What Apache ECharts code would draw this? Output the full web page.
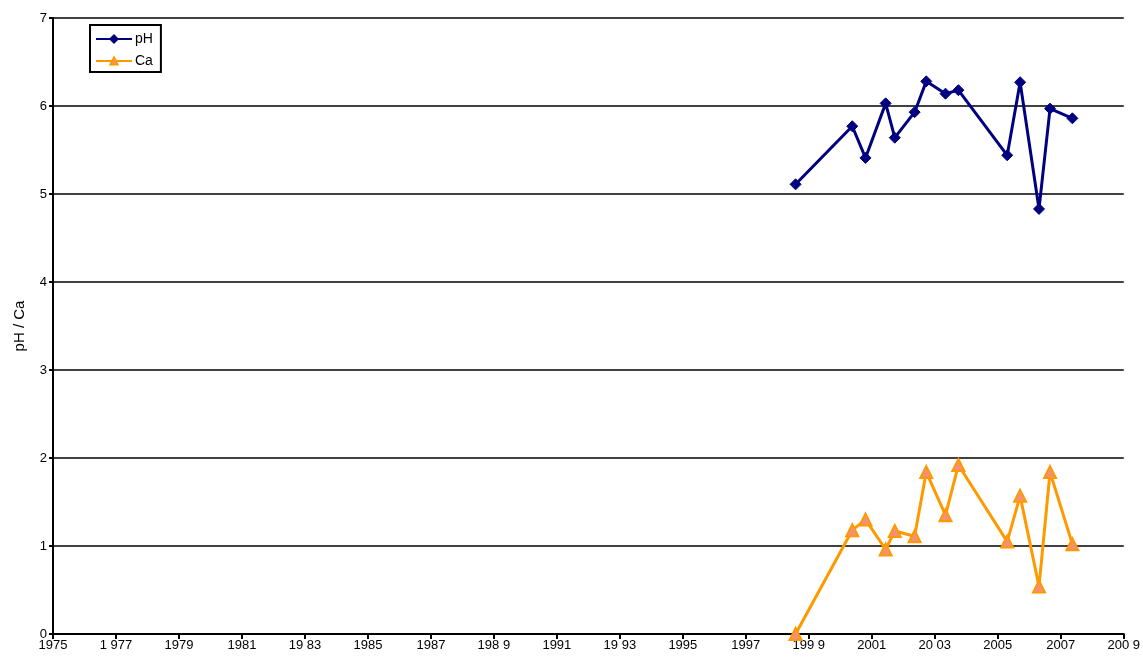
<!DOCTYPE html>
<html>
<head>
<meta charset="utf-8">
<script src="https://cdn.jsdelivr.net/npm/echarts@6/dist/echarts.min.js"></script>
<style>
html,body{margin:0;padding:0;background:#fff;}
#chart{width:1143px;height:659px;}
</style>
</head>
<body>
<div id="chart"></div>
<script>
// Sampling dates as decimal years
const years = [1998.58, 2000.38, 2000.80, 2001.44, 2001.73, 2002.36, 2002.73, 2003.34, 2003.75, 2005.30, 2005.71, 2006.31, 2006.66, 2007.37];
// pH readings
const phValues = [5.11, 5.77, 5.41, 6.03, 5.64, 5.93, 6.28, 6.14, 6.18, 5.44, 6.27, 4.83, 5.97, 5.86];
// Calcium readings
const caValues = [0.00, 1.18, 1.30, 0.96, 1.17, 1.11, 1.84, 1.35, 1.92, 1.05, 1.57, 0.54, 1.84, 1.02];
// X tick labels, every two years from 1975
const xTickYears = [1975, 1977, 1979, 1981, 1983, 1985, 1987, 1989, 1991, 1993, 1995, 1997, 1999, 2001, 2003, 2005, 2007, 2009];
const xTickLabels = ['1975', '1 977', '1979', '1981', '19 83', '1985', '1987', '198 9', '1991', '19 93', '1995', '1997', '199 9', '2001', '20 03', '2005', '2007', '200 9'];

const pair = (xs, ys) => xs.map((x, i) => [x, ys[i]]);
const font = 'Arial, "Liberation Sans", sans-serif';

const chart = echarts.init(document.getElementById('chart'), null, {renderer: 'canvas'});
chart.setOption({
  backgroundColor: '#ffffff',
  animation: false,
  grid: {left: 53, right: 19, top: 18, bottom: 25, containLabel: false},
  legend: {
    orient: 'vertical',
    left: 90,
    top: 25,
    padding: [7, 8, 4, 5],
    itemGap: 8,
    itemWidth: 36,
    itemHeight: 9,
    borderColor: '#000',
    borderWidth: 2,
    textStyle: {fontFamily: font, fontSize: 14, color: '#000', padding: [0, 0, 0, -2]},
    data: ['pH', 'Ca']
  },
  xAxis: {
    type: 'value',
    min: 1975,
    max: 2009,
    interval: 2,
    axisLine: {show: true, lineStyle: {color: '#000', width: 2}},
    axisTick: {show: true, length: 5, lineStyle: {color: '#000', width: 2}},
    splitLine: {show: false},
    axisLabel: {
      fontFamily: font, fontSize: 13, color: '#000', margin: 5,
      formatter: v => {
        const i = xTickYears.indexOf(Math.round(v));
        return i >= 0 ? xTickLabels[i] : '';
      }
    }
  },
  yAxis: {
    type: 'value',
    min: 0,
    max: 7,
    interval: 1,
    name: 'pH / Ca',
    nameLocation: 'middle',
    nameGap: 26,
    nameTextStyle: {fontFamily: font, fontSize: 15, color: '#000'},
    axisLine: {show: true, lineStyle: {color: '#000', width: 2}},
    axisTick: {show: true, length: 4, lineStyle: {color: '#000', width: 2}},
    splitLine: {show: true, lineStyle: {color: '#000', width: 1.5}},
    axisLabel: {fontFamily: font, fontSize: 13, color: '#000', margin: 6}
  },
  series: [
    {
      name: 'pH',
      type: 'line',
      data: pair(years, phValues),
      symbol: 'diamond',
      symbolSize: 11,
      lineStyle: {color: '#000080', width: 3},
      itemStyle: {color: '#000080', borderColor: '#000080', borderWidth: 1},
      z: 3
    },
    {
      name: 'Ca',
      type: 'line',
      data: pair(years, caValues),
      symbol: 'triangle',
      symbolSize: 12,
      lineStyle: {color: '#FF9900', width: 3},
      itemStyle: {color: '#F4907A', borderColor: '#FF9900', borderWidth: 2},
      z: 3
    }
  ]
});
</script>
</body>
</html>
